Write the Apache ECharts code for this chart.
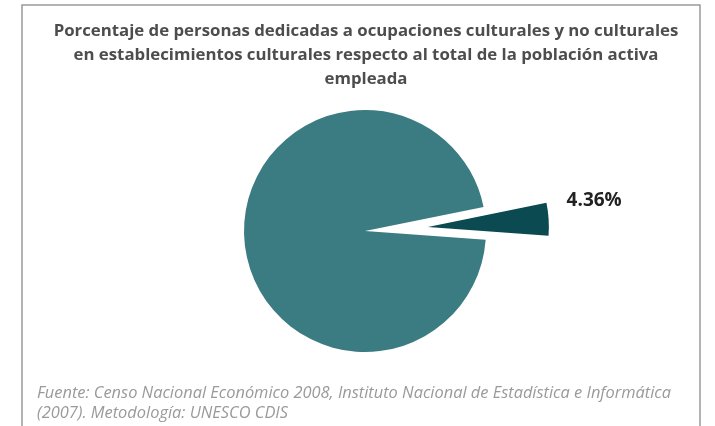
<!DOCTYPE html>
<html>
<head>
<meta charset="utf-8">
<script src="https://cdn.jsdelivr.net/npm/echarts@6/dist/echarts.min.js"></script>
<style>html,body{margin:0;padding:0;background:#fff;}#c{width:715px;height:426px;}</style>
</head>
<body>
<div id="c"></div>
<script>
const titleText = 'Porcentaje de personas dedicadas a ocupaciones culturales y no culturales\nen establecimientos culturales respecto al total de la población activa\nempleada';
const footerText = 'Fuente: Censo Nacional Económico 2008, Instituto Nacional de Estadística e Informática\n(2007). Metodología: UNESCO CDIS';
const categories = ['Ocupaciones culturales y no culturales en establecimientos culturales', 'Resto de la población activa empleada'];
const values = [4.36, 95.64];
const colors = ['#0a4a50', '#3b7c82'];

const chart = echarts.init(document.getElementById('c'), null, {renderer: 'canvas'});
chart.setOption({
  backgroundColor: '#fff',
  animation: false,
  title: {
    text: titleText,
    left: 361,
    textAlign: 'center',
    top: 14,
    textStyle: {fontFamily: 'Open Sans', fontWeight: 'bold', fontSize: 16.8, color: '#4d4d4d', lineHeight: 24}
  },
  graphic: [
    {type: 'rect', shape: {x: 22, y: 5, width: 678, height: 440}, style: {fill: 'none', stroke: '#9a9a9a', lineWidth: 1.5}, z: -1},
    {type: 'text', left: 37, top: 383, style: {text: footerText, font: 'italic 16.4px "Open Sans"', fill: '#9a9a9a', lineHeight: 20}}
  ],
  series: [{
    type: 'pie',
    center: [365, 231],
    radius: [0, 121],
    startAngle: 11.5,
    clockwise: true,
    selectedMode: 'single',
    selectedOffset: 63,
    silent: true,
    data: categories.map((c, i) => ({
      name: c,
      value: values[i],
      selected: i === 0,
      itemStyle: {color: colors[i]},
      label: {show: i === 0}
    })),
    label: {
      position: 'outside',
      formatter: p => p.value.toFixed(2) + '%',
      fontFamily: 'Open Sans',
      fontWeight: 'bold',
      fontSize: 19,
      color: '#222'
    },
    labelLine: {show: false, length: 9, length2: 4},
    labelLayout: {dy: -18}
  }]
});
</script>
</body>
</html>
